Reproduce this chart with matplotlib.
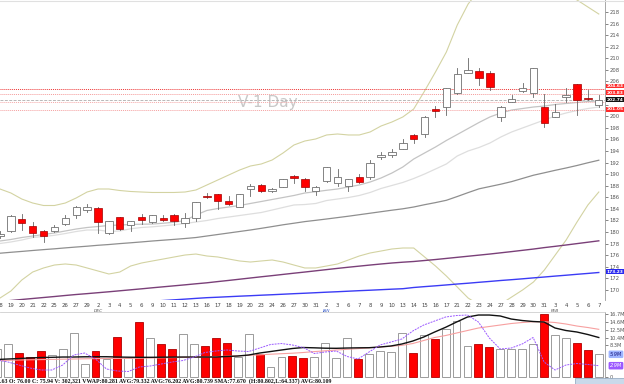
import matplotlib
matplotlib.use("Agg")
import matplotlib.pyplot as plt
from matplotlib.patches import Rectangle
import matplotlib.transforms as mtransforms

# ---------------- data ----------------
dates = ["18", "19", "20", "21", "22", "25", "26", "27", "29",
         "2", "3", "4", "5", "6", "9", "10", "11", "12", "13", "16", "17", "18", "19", "20",
         "23", "24", "26", "27", "30", "31",
         "2", "3", "6", "7", "8", "9", "10", "13", "14", "15", "16", "17", "21", "22", "23",
         "24", "27", "28", "29", "30", "31",
         "3", "4", "5", "6", "7"]
month_marks = {9: "DEC", 30: "JAN", 51: "FEB"}

opens = [179.3, 180.2, 182.25, 181.0, 180.1, 180.2, 181.4, 182.9, 183.8, 184.15,
         179.8, 182.6, 181.2, 182.6, 181.8, 182.48, 182.94, 181.62, 182.37, 186.28,
         186.5, 185.42, 184.38, 187.49, 188.18, 187.03, 187.84, 189.68, 189.22, 187.03,
         188.87, 188.41, 187.95, 189.45, 189.56, 193.0, 193.3, 194.4, 196.75, 196.93,
         201.19, 201.65, 204.07, 207.52, 207.86, 207.4, 199.92, 202.45, 204.3, 203.95,
         201.53, 199.92, 203.37, 205.5, 203.1, 201.94]
highs = [180.2, 183.0, 183.1, 181.7, 180.4, 181.2, 182.9, 184.5, 184.8, 184.3,
         181.96, 182.66, 181.9, 183.1, 182.95, 182.9, 183.06, 183.2, 185.25, 186.7,
         186.6, 186.28, 186.55, 188.24, 188.24, 187.66, 189.15, 189.85, 189.4, 187.9,
         191.3, 190.83, 189.2, 190.03, 192.44, 193.87, 194.34, 196.0, 196.9, 200.04,
         201.76, 204.85, 208.27, 210.0, 208.4, 207.86, 201.76, 203.66, 205.79, 208.35,
         203.84, 202.11, 204.81, 205.6, 204.6, 203.66]
lows = [178.9, 180.0, 180.4, 179.1, 178.3, 180.0, 181.2, 182.4, 183.5, 179.9,
        179.66, 180.35, 180.1, 181.4, 181.5, 181.96, 181.2, 180.8, 181.96, 185.82,
        183.9, 184.67, 184.3, 186.2, 186.95, 186.95, 187.75, 188.5, 187.15, 186.4,
        188.7, 187.95, 187.15, 188.5, 189.1, 192.55, 193.0, 194.3, 195.3, 196.35,
        199.8, 200.2, 203.9, 207.45, 205.39, 204.53, 199.23, 202.4, 204.25, 203.38,
        198.19, 199.8, 202.51, 200.2, 202.8, 201.65]
closes = [179.7, 182.8, 181.6, 179.8, 179.3, 180.8, 182.5, 184.3, 184.4, 181.7,
          181.85, 180.5, 181.85, 182.1, 182.9, 182.14, 181.9, 182.48, 185.13, 186.1,
          185.4, 184.84, 186.5, 187.95, 187.03, 187.49, 189.1, 189.33, 187.84, 187.84,
          191.18, 189.45, 189.1, 188.59, 191.87, 193.3, 193.8, 195.3, 196.0, 199.8,
          200.96, 204.81, 207.29, 207.98, 206.54, 205.0, 201.65, 202.91, 204.87, 208.27,
          198.88, 200.78, 203.66, 202.8, 202.9, 202.8]

bb_upper = [187.43, 186.74, 185.70, 185.01, 184.58, 184.58, 185.01, 185.88, 186.91, 187.43,
            187.43, 187.17, 187.00, 186.91, 186.83, 186.83, 186.83, 186.91, 187.26, 188.12,
            188.98, 189.84, 190.70, 191.40, 191.75, 192.44, 193.65, 195.03, 195.72, 196.07,
            196.76, 196.93, 196.76, 196.76, 197.28, 198.31, 199.00, 199.87, 201.25, 204.36,
            207.64, 211.09, 215.75, 219.38, 221.80, 223.53, 224.39, 224.91, 224.91, 224.39,
            223.53, 222.15, 221.11, 220.07, 218.86, 217.65]
bb_lower = [168.60, 169.81, 171.71, 173.09, 173.79, 174.30, 174.48, 174.30, 173.79, 173.27,
            172.75, 173.09, 174.13, 174.65, 175.00, 175.34, 175.69, 176.03, 176.20, 175.86,
            175.69, 175.34, 175.00, 174.82, 175.00, 175.17, 174.82, 174.30, 173.79, 173.79,
            174.13, 174.48, 175.17, 175.86, 176.38, 176.72, 177.07, 177.24, 177.24, 175.69,
            174.13, 172.40, 170.50, 168.60, 167.40, 167.22, 167.56, 168.78, 169.99, 171.37,
            173.44, 176.03, 178.62, 181.73, 184.67, 186.91]
ma10 = [178.45, 178.71, 179.05, 179.31, 179.57, 179.83, 180.18, 180.52, 180.78, 180.95,
        181.13, 181.21, 181.30, 181.35, 181.38, 181.52, 181.69, 181.99, 182.94, 183.72,
        184.06, 184.32, 184.58, 184.93, 185.27, 185.62, 185.96, 186.31, 186.74, 186.96,
        187.21, 187.43, 187.78, 188.12, 188.64, 189.33, 190.19, 191.23, 192.61, 193.65,
        194.68, 195.81, 196.84, 197.88, 198.92, 199.87, 200.56, 201.07, 201.33, 201.59,
        201.76, 202.02, 202.20, 202.37, 202.54, 202.63]
ma20 = [178.02, 178.28, 178.62, 179.05, 179.23, 179.43, 179.74, 180.09, 180.35, 180.35,
        180.09, 180.18, 180.56, 180.78, 180.90, 181.07, 181.25, 181.47, 181.73, 181.99,
        182.33, 182.59, 182.85, 183.11, 183.37, 183.80, 184.24, 184.67, 184.75, 184.93,
        185.44, 185.70, 185.96, 186.31, 186.83, 187.52, 188.04, 188.56, 189.24, 190.02,
        190.88, 191.75, 193.13, 194.00, 194.60, 195.37, 196.41, 197.28, 197.97, 198.66,
        199.35, 200.04, 200.56, 200.99, 201.33, 201.59]
ma50 = [176.34, 176.50, 176.65, 176.81, 176.96, 177.10, 177.26, 177.41, 177.55, 177.71,
        177.84, 178.00, 178.14, 178.29, 178.45, 178.59, 178.73, 178.88, 179.05, 179.31,
        179.57, 179.83, 180.09, 180.35, 180.64, 180.94, 181.25, 181.52, 181.80, 182.02,
        182.25, 182.49, 182.73, 182.99, 183.25, 183.51, 183.77, 184.01, 184.32, 184.72,
        185.08, 185.48, 186.13, 186.81, 187.46, 187.86, 188.26, 188.71, 189.26, 189.81,
        190.23, 190.66, 191.06, 191.49, 191.96, 192.40]
ma100 = [168.00, 168.17, 168.35, 168.52, 168.69, 168.86, 169.04, 169.21, 169.36, 169.52,
         169.68, 169.85, 170.02, 170.19, 170.37, 170.54, 170.71, 170.88, 171.06, 171.23,
         171.44, 171.64, 171.85, 172.06, 172.27, 172.47, 172.68, 172.89, 173.09, 173.30,
         173.51, 173.72, 173.92, 174.11, 174.30, 174.48, 174.65, 174.79, 174.91, 175.08,
         175.25, 175.44, 175.63, 175.82, 176.01, 176.20, 176.41, 176.62, 176.84, 177.06,
         177.31, 177.53, 177.76, 178.00, 178.24, 178.48]
ma200 = [166.36, 166.48, 166.60, 166.72, 166.84, 166.96, 167.08, 167.21, 167.33, 167.45,
         167.57, 167.69, 167.81, 167.93, 168.05, 168.17, 168.29, 168.41, 168.54, 168.66,
         168.74, 168.83, 168.92, 169.00, 169.09, 169.17, 169.26, 169.35, 169.43, 169.52,
         169.61, 169.69, 169.78, 169.87, 169.95, 170.04, 170.13, 170.21, 170.42, 170.57,
         170.71, 170.86, 171.02, 171.16, 171.32, 171.47, 171.63, 171.77, 171.92, 172.08,
         172.23, 172.39, 172.54, 172.70, 172.85, 173.01]

level_lines = [204.63, 203.83, 202.45, 201.05]
last_price = 202.74
level_labels = ["204.63", "203.83", "202.74", "201.05"]
ma200_label = "173.23"
price_ticks = list(range(170, 219, 2))
hidden_price_ticks = [202, 204]   # covered by the level boxes in the reference

volume = [7.35, 8.69, 6.20, 5.13, 6.90, 5.67, 7.27, 11.55, 3.34, 6.90,
          4.60, 10.64, 4.87, 14.49, 10.21, 8.69, 7.27, 11.36, 8.69, 8.24,
          10.21, 9.04, 5.29, 11.28, 6.02, 2.46, 5.29, 5.48, 5.03, 5.29,
          8.88, 5.03, 10.21, 4.60, 5.94, 6.90, 6.63, 11.55, 6.36, 11.10,
          10.03, 12.62, 14.92, 8.24, 8.69, 7.81, 7.27, 7.35, 7.27, 8.69,
          16.71, 11.10, 10.21, 8.88, 7.09, 5.94]
vol_avg_black = [4.55, 4.68, 4.81, 4.95, 5.08, 5.13, 5.21, 5.21, 5.27, 5.29,
                 5.29, 5.21, 5.16, 5.13, 5.13, 5.16, 5.19, 5.21, 5.21, 5.21,
                 5.21, 5.35, 5.48, 5.75, 6.28, 6.68, 7.09, 7.49, 7.75, 7.67,
                 7.57, 7.54, 7.62, 7.67, 7.70, 7.89, 8.16, 8.69, 9.49, 10.56,
                 11.90, 13.16, 14.57, 15.91, 16.44, 16.44, 16.18, 15.37, 14.97, 14.71,
                 14.57, 12.97, 12.30, 11.90, 11.23, 10.43]
vol_avg_pink = [4.28, 4.33, 4.41, 4.47, 4.52, 4.57, 4.63, 4.68, 4.73, 4.79,
                4.81, 4.84, 4.87, 4.89, 4.95, 5.00, 5.05, 5.11, 5.16, 5.21,
                5.32, 5.43, 5.53, 5.67, 5.80, 5.96, 6.10, 6.23, 6.42, 6.66,
                6.87, 7.09, 7.27, 7.46, 7.67, 7.89, 8.07, 8.34, 8.82, 9.63,
                10.43, 10.96, 11.63, 12.30, 12.97, 13.37, 13.77, 14.17, 14.44, 14.63,
                14.65, 14.44, 14.04, 13.50, 13.10, 12.62]
vol_purple = [4.41, 3.88, 3.07, 2.27, 1.74, 1.74, 3.07, 5.75, 6.28, 4.68,
              2.01, 1.47, 1.34, 2.54, 2.81, 3.34, 3.88, 4.28, 5.21, 6.42,
              6.82, 7.09, 6.82, 6.68, 7.62, 8.56, 8.82, 8.42, 7.75, 6.15,
              6.55, 6.82, 5.35, 4.68, 6.55, 8.42, 9.22, 10.03, 12.17, 13.77,
              14.84, 15.91, 16.31, 16.44, 14.57, 10.29, 7.35, 7.62, 8.69, 10.43,
              3.88, 1.74, 3.07, 3.48, 3.21, 2.89]
vol_ticks = [16.7, 14.6, 12.5, 10.4, 8.3, 0]
vol_tick_labels = ["16.7M", "14.6M", "12.5M", "10.4M", "8.3M", "0"]
vol_last_label = "5.9M"
purple_last_label = "2.9M"

info_text = (".63 O: 76.00 C: 75.94 V: 302,321 VWAP:80.281 AVG:79.332 AVG:76.202 "
             "AVG:80.739 SMA:77.670  (H:80.802,L:64.337) AVG:80.109")
watermark = "V-1 Day"

# ---------------- figure ----------------
W, H = 624, 384
fig = plt.figure(figsize=(W / 100, H / 100), dpi=100)
fig.patch.set_facecolor("white")

n = len(closes)
xs = list(range(n))
xlim = (0.27, 55.57)

ax = fig.add_axes([0, 84 / H, 605 / W, 300 / H])
ax.set_xlim(*xlim)
ax.set_ylim(168.26, 220.07)
for s in ["left", "top", "bottom"]:
    ax.spines[s].set_visible(False)
ax.spines["right"].set_color("#9a9a9a")
ax.spines["right"].set_linewidth(0.6)
ax.yaxis.tick_right()
ax.set_yticks(price_ticks)
ax.set_yticklabels(["" if t in hidden_price_ticks else str(t) for t in price_ticks])
ax.tick_params(axis="y", labelsize=3.8, length=2, width=0.5, colors="#555555", pad=1.5)
ax.set_xticks(xs)
ax.set_xticklabels(dates)
ax.tick_params(axis="x", labelsize=3.9, length=0, pad=2.5, colors="#444444")

# watermark
ax.text(24.6, 202.4, watermark, fontsize=11, color="#c8c8c8", ha="center", va="center",
        zorder=1)

# indicator lines
ax.plot(xs, bb_upper, color="#d3d3a2", lw=0.8, zorder=2)
ax.plot(xs, bb_lower, color="#d3d3a2", lw=0.8, zorder=2)
ax.plot(xs, ma20, color="#dedede", lw=0.9, zorder=2)
ax.plot(xs, ma10, color="#c4c4c4", lw=0.9, zorder=2)
ax.plot(xs, ma50, color="#8f8f8f", lw=0.9, zorder=2)
ax.plot(xs, ma100, color="#7a3f78", lw=1.0, zorder=2)
ax.plot(xs, ma200, color="#3b3bf5", lw=1.0, zorder=2)

# horizontal levels
ax.axhline(level_lines[0], color="#ee3333", lw=0.7, ls=(0, (1, 1)), zorder=3)
ax.axhline(level_lines[1], color="#f59a9a", lw=0.7, ls=(0, (1, 1)), zorder=3)
ax.axhline(last_price, color="#b8b8b8", lw=0.7, ls=(0, (3, 1.5)), zorder=3)
ax.axhline(level_lines[2], color="#f5a8a8", lw=0.7, ls=(0, (1, 1)), zorder=3)
ax.axhline(level_lines[3], color="#f5a0a0", lw=0.7, ls=(0, (1, 1)), zorder=3)

# candles
bw = 0.68
for i in xs:
    o, h, l, c = opens[i], highs[i], lows[i], closes[i]
    up = c >= o
    ax.plot([i, i], [l, h], color="#666666", lw=0.6, zorder=4)
    lo, hi = min(o, c), max(o, c)
    if hi - lo < 0.1:
        lo, hi = (lo + hi) / 2 - 0.05, (lo + hi) / 2 + 0.05
    if up:
        rect = Rectangle((i - bw / 2, lo), bw, hi - lo, facecolor="white",
                         edgecolor="#707070", lw=0.6, zorder=5)
    else:
        rect = Rectangle((i - bw / 2, lo), bw, hi - lo, facecolor="#ff0000",
                         edgecolor="#a00000", lw=0.5, zorder=5)
    ax.add_patch(rect)

# month labels
trans = mtransforms.blended_transform_factory(ax.transData, ax.transAxes)
for i, m in month_marks.items():
    ax.text(i, -0.036, m, transform=trans, fontsize=3.2,
            color="#4466cc" if m == "JAN" else "#555555",
            ha="center", va="center", style="italic")

# right price labels (boxes hugging the right edge)
def price_box(y_px, text, fc, tc="white"):
    fig.text(623.5 / W, 1 - y_px / H, text, fontsize=3.2, color=tc, ha="right", va="center",
             fontweight="bold",
             bbox=dict(boxstyle="square,pad=0.1", fc=fc, ec=fc, lw=0), zorder=10)

price_box(86.0, level_labels[0], "#ff2b2b")
price_box(92.8, level_labels[1], "#ff2b2b")
price_box(99.8, level_labels[2], "#111111")
price_box(109.4, level_labels[3], "#ff2b2b")
price_box(271.8, ma200_label, "#2a2af0")

# ---------------- volume panel ----------------
vax = fig.add_axes([0, 6 / H, 605 / W, 66 / H])
vax.set_xlim(*xlim)
vax.set_ylim(-0.40, 17.25)
for s in ["left", "bottom"]:
    vax.spines[s].set_visible(False)
vax.spines["top"].set_color("#cfcfcf")
vax.spines["top"].set_linewidth(0.6)
vax.spines["right"].set_color("#9a9a9a")
vax.spines["right"].set_linewidth(0.6)
vax.set_xticks([])
vax.yaxis.tick_right()
vax.set_yticks(vol_ticks)
vax.set_yticklabels(vol_tick_labels)
vax.tick_params(axis="y", labelsize=3.6, length=2, width=0.5, colors="#555555", pad=1.5)

for i in xs:
    up = closes[i] >= opens[i]
    vax.bar(i, volume[i], width=0.72,
            color="white" if up else "#ff0000",
            edgecolor="#8c8c8c" if up else "#b00000", lw=0.6, zorder=2)
vax.plot(xs, vol_avg_pink, color="#f7a0a0", lw=0.8, zorder=3)
vax.plot(xs, vol_avg_black, color="#111111", lw=1.0, zorder=3)
vax.plot(xs, vol_purple, color="#9b59ff", lw=0.7, ls=(0, (2, 1)), zorder=3)

vtrans = mtransforms.blended_transform_factory(vax.transAxes, vax.transData)
vax.text(1.008, volume[-1], vol_last_label, transform=vtrans, fontsize=3.6, color="#1a1a80",
         ha="left", va="center", style="italic",
         bbox=dict(boxstyle="round,pad=0.25", fc="#9fb4ff", ec="#9fb4ff", lw=0), clip_on=False, zorder=10)
vax.text(1.008, vol_purple[-1], purple_last_label, transform=vtrans, fontsize=3.6, color="white",
         ha="left", va="center", style="italic",
         bbox=dict(boxstyle="round,pad=0.25", fc="#9b59ff", ec="#9b59ff", lw=0), clip_on=False, zorder=10)

# info text and corner box
fig.text(0.0, 2.8 / H, info_text, fontsize=4.2, family="Liberation Serif", color="#111111",
         ha="left", va="center", fontweight="bold")
fig.patches.append(Rectangle((575 / W, 0), 49 / W, 6 / H, transform=fig.transFigure,
                             facecolor="#c9d9ea", edgecolor="#8aa2bb", lw=0.5))
# top border
fig.add_artist(plt.Line2D([0, 1], [1 - 0.8 / H, 1 - 0.8 / H], transform=fig.transFigure,
                          color="#e0e0e0", lw=0.8))

fig.savefig("out.png", dpi=100, facecolor="white")
